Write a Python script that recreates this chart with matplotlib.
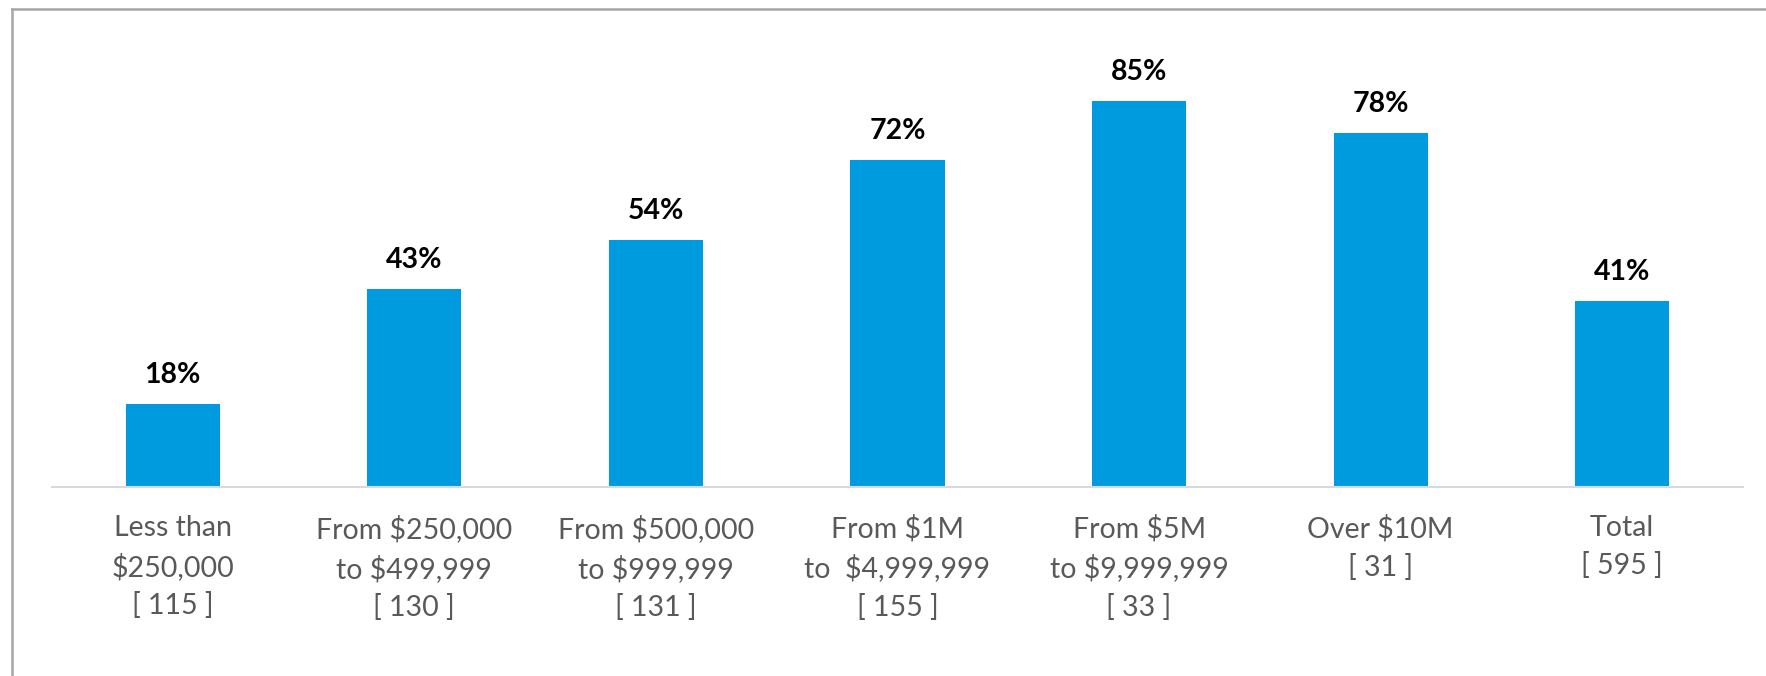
import matplotlib
matplotlib.use("Agg")
import matplotlib.pyplot as plt
from matplotlib.lines import Line2D

categories = ["Less than\n$250,000\n[ 115 ]",
              "From $250,000\nto $499,999\n[ 130 ]",
              "From $500,000\nto $999,999\n[ 131 ]",
              "From $1M\nto  $4,999,999\n[ 155 ]",
              "From $5M\nto $9,999,999\n[ 33 ]",
              "Over $10M\n[ 31 ]",
              "Total\n[ 595 ]"]
values = [18.3, 43.6, 54.4, 72.1, 85.0, 78.0, 41.0]
value_labels = ["18%", "43%", "54%", "72%", "85%", "78%", "41%"]

W, H = 1766, 676
fig = plt.figure(figsize=(W / 100, H / 100), dpi=100)
fig.patch.set_facecolor("white")

ax = fig.add_axes([52 / W, (H - 487) / H, (1743 - 52) / W, (487 - 33) / H])
x = list(range(len(values)))
ax.bar(x, values, width=0.39, color="#009BDE", zorder=2)
ax.set_xlim(-0.5, len(values) - 0.5)
ax.set_ylim(0, 100)

for s in ["top", "right", "left"]:
    ax.spines[s].set_visible(False)
ax.spines["bottom"].set_color("#d9d9d9")
ax.spines["bottom"].set_linewidth(1.5)
ax.set_yticks([])
ax.set_xticks(x)
ax.set_xticklabels(categories, fontsize=20.5, color="#595959", family="Lato",
                   linespacing=1.52)
ax.tick_params(axis="x", length=0, pad=20)

for xi, v, lab in zip(x, values, value_labels):
    ax.annotate(lab, (xi, v), xytext=(0, 15), textcoords="offset points",
                ha="center", va="baseline", fontsize=20.5, fontweight="bold",
                color="black", family="Lato")

# chart frame (cropped)
fig.add_artist(Line2D([12 / W, 1.0], [1 - 9 / H, 1 - 9 / H], transform=fig.transFigure,
                      color="#a6a6a6", linewidth=1.8))
fig.add_artist(Line2D([12 / W, 12 / W], [0, 1 - 9 / H], transform=fig.transFigure,
                      color="#a6a6a6", linewidth=1.8))

fig.savefig("out.png", dpi=100, facecolor="white")
